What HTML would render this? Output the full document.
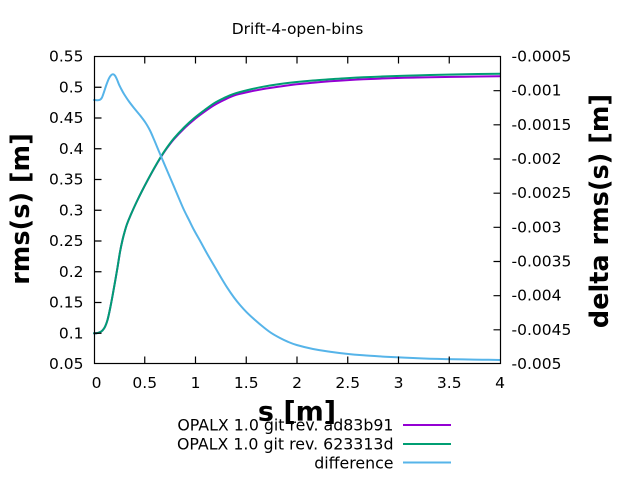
<!DOCTYPE html>
<html><head><meta charset="utf-8"><style>
html,body{margin:0;padding:0;background:#fff;}
svg{display:block;}
text{font-family:"DejaVu Sans","Liberation Sans",sans-serif;fill:#000;}
</style></head><body>
<svg id="chart" width="640" height="480" viewBox="0 0 640 480" xmlns="http://www.w3.org/2000/svg">
<rect width="640" height="480" fill="#fff"/>
<text x="297.5" y="34" font-size="15.5" text-anchor="middle">Drift-4-open-bins</text>

<!-- curves -->
<g id="curves" fill="none" stroke-width="2" stroke-linejoin="round" stroke-linecap="round">
<polyline class="sm" stroke="#9400D3" points="94,333.3 97,333.1 100,332.2 102.5,330.4 105,326.8 107.5,320 110,309 112.5,296 115,282 117.5,267.5 120,252 122.5,240 125,230.5 127.3,223.3 132,212 137.3,200.5 142,191 147.3,180.9 154,168.7 160.7,157.5 167,148.1 174,139.1 184,128.6 194,119.7 204,112.1 214,105.3 224,100 234,95.5 248,92 263.3,89 280,86.5 296.7,84.3 313,82.7 330,81.3 346,80.2 363.3,79.3 380,78.6 396.7,78 413,77.6 430,77.3 465,76.7 500,76.3"/>
<polyline class="sm" stroke="#009E73" points="94,333.3 97,333.1 100,332.2 102.5,330.4 105,326.8 107.5,320 110,309 112.5,296 115,282 117.5,267.5 120,252 122.5,240 125,230.5 127.3,223.3 132,212 137.3,200.5 142,191 147.3,180.8 154,168.5 160.7,157 167,147.5 174,138.3 184,127.5 194,118.3 204,110.5 214,103.3 224,98 234,93.8 248,90 263.3,86.7 280,84 296.7,82 313,80.5 330,79.3 346,78.2 363.3,77.3 380,76.6 396.7,76 413,75.5 430,75 465,74.2 500,73.7"/>
<polyline class="sm" stroke="#56B4E9" points="94,100 97,100.2 100,99.8 102,97.5 104,92 106.5,84.5 109,78.3 111,75.3 113,74.3 115,75.6 117,79.5 119,84.5 121.5,89.5 124,94 129,101.5 134,108 140,115.3 145.7,123 150,130.5 154,139.5 159,151.5 164,163.3 169,175 174,186.7 179,198.5 184,210 189,220 194,230 200.7,242 207.3,254 214,265.5 220.7,277 227,287.3 234,297.5 240,305 246.7,312.3 255,320 263.3,327 271,332.8 280,338 288,341.8 296.7,345 313,349 330,351.7 346,353.7 363.3,355.3 380,356.4 396.7,357.3 413,358 430,358.7 446,359.1 463.3,359.4 482,359.7 500,360"/>
</g>

<!-- border -->
<rect x="94.5" y="56.5" width="406" height="307" fill="none" stroke="#000" stroke-width="1.2"/>

<!-- ticks -->
<g stroke="#000" stroke-width="1.2">
<path d="M144.75,363.5v-7 M195.5,363.5v-7 M246.25,363.5v-7 M297,363.5v-7 M347.75,363.5v-7 M398.5,363.5v-7 M449.25,363.5v-7
M144.75,56.5v7 M195.5,56.5v7 M246.25,56.5v7 M297,56.5v7 M347.75,56.5v7 M398.5,56.5v7 M449.25,56.5v7"/>
<path d="M94.5,87.25h7 M94.5,118h7 M94.5,148.75h7 M94.5,179.5h7 M94.5,210.25h7 M94.5,241h7 M94.5,271.75h7 M94.5,302.5h7 M94.5,333.25h7"/>
<path d="M500.5,90.7h-7 M500.5,124.8h-7 M500.5,159h-7 M500.5,193.2h-7 M500.5,227.3h-7 M500.5,261.5h-7 M500.5,295.7h-7 M500.5,329.8h-7"/>
</g>

<!-- y tick labels -->
<g font-size="15.5" text-anchor="end" dominant-baseline="central">
<text x="83.5" y="56.5">0.55</text>
<text x="83.5" y="87.25">0.5</text>
<text x="83.5" y="118">0.45</text>
<text x="83.5" y="148.75">0.4</text>
<text x="83.5" y="179.5">0.35</text>
<text x="83.5" y="210.25">0.3</text>
<text x="83.5" y="241">0.25</text>
<text x="83.5" y="271.75">0.2</text>
<text x="83.5" y="302.5">0.15</text>
<text x="83.5" y="333.25">0.1</text>
<text x="83.5" y="364">0.05</text>
</g>
<!-- y2 tick labels -->
<g font-size="15.5" text-anchor="start" dominant-baseline="central">
<text x="511.5" y="56.5">-0.0005</text>
<text x="511.5" y="90.7">-0.001</text>
<text x="511.5" y="124.8">-0.0015</text>
<text x="511.5" y="159">-0.002</text>
<text x="511.5" y="193.2">-0.0025</text>
<text x="511.5" y="227.3">-0.003</text>
<text x="511.5" y="261.5">-0.0035</text>
<text x="511.5" y="295.7">-0.004</text>
<text x="511.5" y="329.8">-0.0045</text>
<text x="511.5" y="364">-0.005</text>
</g>
<!-- x tick labels -->
<g font-size="15.5" text-anchor="middle" dominant-baseline="central">
<text x="96.5" y="383">0</text>
<text x="144.75" y="383">0.5</text>
<text x="195.5" y="383">1</text>
<text x="246.25" y="383">1.5</text>
<text x="297" y="383">2</text>
<text x="347.75" y="383">2.5</text>
<text x="398.5" y="383">3</text>
<text x="449.25" y="383">3.5</text>
<text x="500" y="383">4</text>
</g>

<!-- axis labels -->
<text x="297" y="412" font-size="27" font-weight="bold" text-anchor="middle" dominant-baseline="central">s [m]</text>
<text transform="translate(21,209) rotate(-90)" font-size="25.5" font-weight="bold" text-anchor="middle" dominant-baseline="central">rms(s) [m]</text>
<text transform="translate(600,211) rotate(-90)" font-size="25.5" font-weight="bold" text-anchor="middle" dominant-baseline="central">delta rms(s) [m]</text>

<!-- legend -->
<g font-size="15.8" text-anchor="end" dominant-baseline="central">
<text x="393.5" y="425">OPALX 1.0 git rev. ad83b91</text>
<text x="393.5" y="444">OPALX 1.0 git rev. 623313d</text>
<text x="393.5" y="463">difference</text>
</g>
<g stroke-width="2">
<line x1="403" y1="425" x2="451" y2="425" stroke="#9400D3"/>
<line x1="403" y1="444" x2="451" y2="444" stroke="#009E73"/>
<line x1="403" y1="462.5" x2="451" y2="462.5" stroke="#56B4E9"/>
</g>
</svg>
<script>
(function(){
  var ns="http://www.w3.org/2000/svg";
  var pls=document.querySelectorAll("polyline.sm");
  for(var k=0;k<pls.length;k++){
    var pl=pls[k];
    var raw=pl.getAttribute("points").trim().split(/\s+/).map(function(s){var a=s.split(",");return [parseFloat(a[0]),parseFloat(a[1])];});
    var n=raw.length, d="M"+raw[0][0]+","+raw[0][1];
    for(var i=0;i<n-1;i++){
      var p0=raw[i>0?i-1:0],p1=raw[i],p2=raw[i+1],p3=raw[i+2<n?i+2:n-1];
      var c1x=p1[0]+(p2[0]-p0[0])/6,c1y=p1[1]+(p2[1]-p0[1])/6;
      var c2x=p2[0]-(p3[0]-p1[0])/6,c2y=p2[1]-(p3[1]-p1[1])/6;
      d+=" C"+c1x.toFixed(2)+","+c1y.toFixed(2)+" "+c2x.toFixed(2)+","+c2y.toFixed(2)+" "+p2[0]+","+p2[1];
    }
    var path=document.createElementNS(ns,"path");
    path.setAttribute("d",d);
    path.setAttribute("stroke",pl.getAttribute("stroke"));
    pl.parentNode.insertBefore(path,pl);
    pl.parentNode.removeChild(pl);
  }
})();
</script>
</body></html>
